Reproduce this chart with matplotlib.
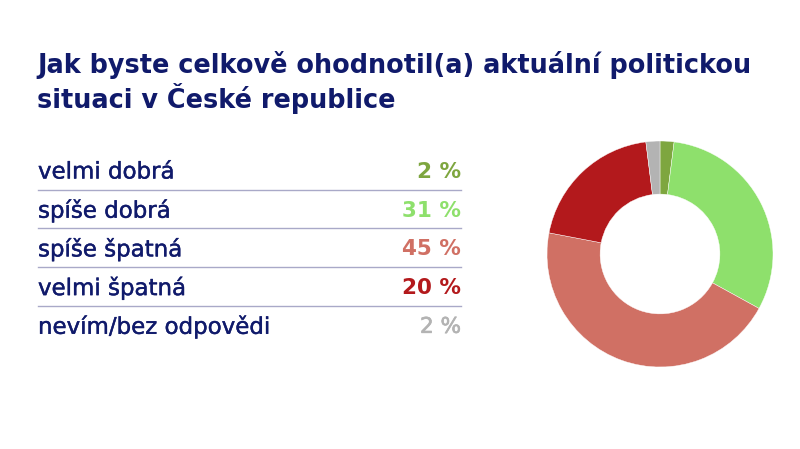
import matplotlib.pyplot as plt
import matplotlib.patheffects as pe

# data
labels = ["velmi dobrá", "spíše dobrá", "spíše špatná", "velmi špatná", "nevím/bez odpovědi"]
values = [2, 31, 45, 20, 2]
colors = ["#7ea63f", "#8ee06c", "#d07064", "#b3191c", "#b3b3b3"]
value_bold = [True, True, True, True, False]

navy = "#101a6b"
plt.rcParams["font.family"] = ["DejaVu Sans"]

fig = plt.figure(figsize=(8, 4.49), dpi=100)
W, H = 800, 449

def fx(px):
    return px / W

def fy(py):
    return 1 - py / H

# title
fig.text(fx(37), fy(65), "Jak byste celkově ohodnotil(a) aktuální politickou",
         fontsize=18.4, weight="bold", color=navy, va="center", ha="left")
fig.text(fx(37), fy(98), "situaci v České republice",
         fontsize=18.4, weight="bold", color=navy, va="center", ha="left")

# table rows (labels a touch heavier than regular)
row0, step = 172, 38.7
for i, (lab, val, col, b) in enumerate(zip(labels, values, colors, value_bold)):
    y = row0 + i * step
    fig.text(fx(38), fy(y), lab, fontsize=16.5, color=navy, va="center", ha="left",
             path_effects=[pe.withStroke(linewidth=0.3, foreground=navy)])
    t = fig.text(fx(461), fy(y), f"{val} %", fontsize=15.5,
                 weight="bold" if b else "normal", color=col, va="center", ha="right")
    if not b:
        t.set_path_effects([pe.withStroke(linewidth=0.5, foreground=col)])
    if i < len(labels) - 1:
        ly = fy(y + 17.5)
        fig.add_artist(plt.Line2D([fx(38), fx(461)], [ly, ly], color="#a9a9c8",
                                  lw=1, transform=fig.transFigure))

# donut
r = 113
ax = fig.add_axes([fx(660 - r), fy(254 + r), 2 * r / W, 2 * r / H])
ax.pie(values, colors=colors, startangle=90, counterclock=False,
       wedgeprops=dict(width=0.47, edgecolor="white", linewidth=0.3))
ax.set_xlim(-1, 1)
ax.set_ylim(-1, 1)
ax.set_aspect("equal")
ax.axis("off")

fig.savefig("out.png", dpi=100)
